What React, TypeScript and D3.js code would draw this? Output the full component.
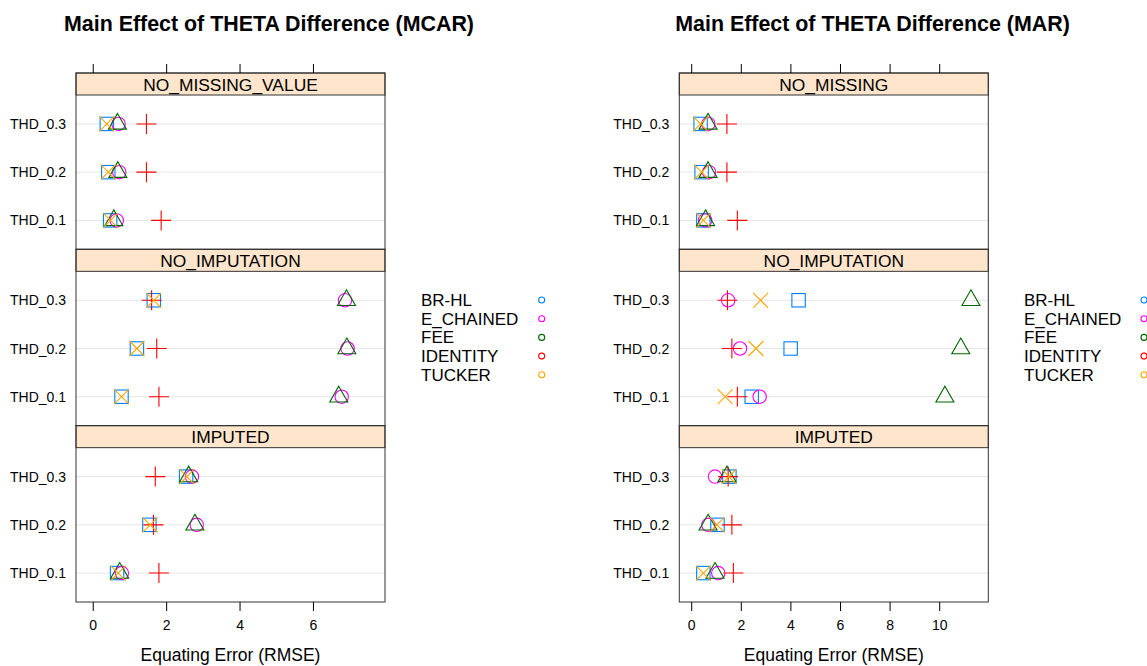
import { scaleLinear, scalePoint } from "d3";

const width = 1147;
const height = 666;
const font = "'Liberation Sans', Arial, sans-serif";

const methods = ["BR-HL", "E_CHAINED", "FEE", "IDENTITY", "TUCKER"];
const methodColors = ["#0080ff", "#ff00ff", "darkgreen", "#ff0000", "orange"];
const methodShapes = ["square", "circle", "triangle", "plus", "cross"];
const thdLevels = ["THD_0.1", "THD_0.2", "THD_0.3"];
const mcarConditions = ["NO_MISSING_VALUE", "NO_IMPUTATION", "IMPUTED"];
const marConditions = ["NO_MISSING", "NO_IMPUTATION", "IMPUTED"];

// values ordered by condition (top panel first), then THD_0.1, THD_0.2, THD_0.3
const mcarBrHl = [0.46, 0.41, 0.37, 0.77, 1.19, 1.65, 0.65, 1.53, 2.53];
const mcarEChained = [0.64, 0.71, 0.69, 6.77, 6.93, 6.86, 0.78, 2.82, 2.69];
const mcarFee = [0.56, 0.67, 0.66, 6.69, 6.91, 6.9, 0.72, 2.77, 2.6];
const mcarIdentity = [1.85, 1.45, 1.45, 1.79, 1.73, 1.59, 1.79, 1.64, 1.69];
const mcarTucker = [0.47, 0.41, 0.37, 0.77, 1.19, 1.65, 0.68, 1.55, 2.55];

const marBrHl = [0.47, 0.4, 0.36, 2.42, 3.99, 4.31, 0.47, 1.04, 1.52];
const marEChained = [0.54, 0.7, 0.67, 2.74, 1.95, 1.47, 1.07, 0.67, 0.94];
const marFee = [0.56, 0.66, 0.66, 10.21, 10.85, 11.26, 0.94, 0.66, 1.42];
const marIdentity = [1.84, 1.42, 1.42, 1.84, 1.62, 1.44, 1.68, 1.62, 1.47];
const marTucker = [0.47, 0.4, 0.36, 1.35, 2.59, 2.78, 0.47, 1.02, 1.5];

const mcarTicks = [0, 2, 4, 6];
const marTicks = [0, 2, 4, 6, 8, 10];

const plotTop = 73;
const plotBottom = 602;
const stripH = 22;

function Mark({ shape, x, y, color }) {
  const common = { fill: "none", stroke: color, strokeWidth: 1.1 };
  if (shape === "square") return <rect x={x - 6.7} y={y - 6.7} width={13.4} height={13.4} {...common} />;
  if (shape === "circle") return <circle cx={x} cy={y} r={6.7} {...common} />;
  if (shape === "triangle")
    return <path d={`M${x},${y - 10.5}L${x + 9},${y + 5.2}L${x - 9},${y + 5.2}Z`} {...common} />;
  if (shape === "plus")
    return <path d={`M${x - 10},${y}H${x + 10}M${x},${y - 10}V${y + 10}`} {...common} />;
  return <path d={`M${x - 7.5},${y - 7.5}L${x + 7.5},${y + 7.5}M${x - 7.5},${y + 7.5}L${x + 7.5},${y - 7.5}`} {...common} />;
}

function Chart({ title, titleX, left, right, domain, ticks, conditions, values, legendX, dotX }) {
  const x = scaleLinear().domain(domain).range([left, right]);
  const rowH = (plotBottom - plotTop) / conditions.length;
  const cx = (left + right) / 2;

  return (
    <g fontFamily={font}>
      <text x={titleX} y={31} textAnchor="middle" fontSize={21.4} fontWeight="bold" fill="#000">
        {title}
      </text>
      {conditions.map((cond, ci) => {
        const top = plotTop + ci * rowH;
        const bodyTop = top + stripH;
        const bodyBottom = top + rowH;
        const y = scalePoint().domain(thdLevels).range([bodyBottom, bodyTop]).padding(0.6);
        return (
          <g key={cond}>
            <rect x={left} y={top} width={right - left} height={stripH} fill="#ffe5cc" stroke="#333" />
            <text x={cx} y={top + 17.5} textAnchor="middle" fontSize={17.4} fill="#000">
              {cond}
            </text>
            {thdLevels.map((t) => (
              <g key={t}>
                <line x1={left} x2={right} y1={y(t)} y2={y(t)} stroke="#e6e6e6" />
                <text x={left - 10} y={y(t) + 5} textAnchor="end" fontSize={14} fill="#000">
                  {t}
                </text>
              </g>
            ))}
            {methods.map((m, mi) =>
              thdLevels.map((t, ti) => (
                <Mark
                  key={m + t}
                  shape={methodShapes[mi]}
                  color={methodColors[mi]}
                  x={x(values[mi][ci * 3 + ti])}
                  y={y(t)}
                />
              ))
            )}
            <rect x={left} y={top} width={right - left} height={rowH} fill="none" stroke="#333" />
          </g>
        );
      })}
      {ticks.map((t) => (
        <g key={t}>
          <line x1={x(t)} x2={x(t)} y1={plotTop - 9} y2={plotTop} stroke="#000" />
          <line x1={x(t)} x2={x(t)} y1={plotBottom} y2={plotBottom + 9} stroke="#000" />
          <text x={x(t)} y={630} textAnchor="middle" fontSize={14} fill="#000">
            {t}
          </text>
        </g>
      ))}
      <text x={cx} y={661} textAnchor="middle" fontSize={17.5} fill="#000">
        Equating Error (RMSE)
      </text>
      {methods.map((m, mi) => (
        <g key={m}>
          <text x={legendX} y={306 + mi * 18.7} fontSize={17} fill="#000">
            {m}
          </text>
          <circle cx={dotX} cy={300 + mi * 18.7} r={3} fill="none" stroke={methodColors[mi]} strokeWidth={1.1} />
        </g>
      ))}
    </g>
  );
}

export default function App() {
  return (
    <svg
      width={width}
      height={height}
      style={{ position: "absolute", left: 0, top: 0, background: "#fff" }}
    >
      <rect width={width} height={height} fill="#fff" />
      <Chart
        title="Main Effect of THETA Difference (MCAR)"
        titleX={269}
        left={76}
        right={385}
        domain={[-0.47, 7.95]}
        ticks={mcarTicks}
        conditions={mcarConditions}
        values={[mcarBrHl, mcarEChained, mcarFee, mcarIdentity, mcarTucker]}
        legendX={421}
        dotX={541.7}
      />
      <Chart
        title="Main Effect of THETA Difference (MAR)"
        titleX={872.5}
        left={679.3}
        right={988.3}
        domain={[-0.5, 11.96]}
        ticks={marTicks}
        conditions={marConditions}
        values={[marBrHl, marEChained, marFee, marIdentity, marTucker]}
        legendX={1024}
        dotX={1144}
      />
    </svg>
  );
}
